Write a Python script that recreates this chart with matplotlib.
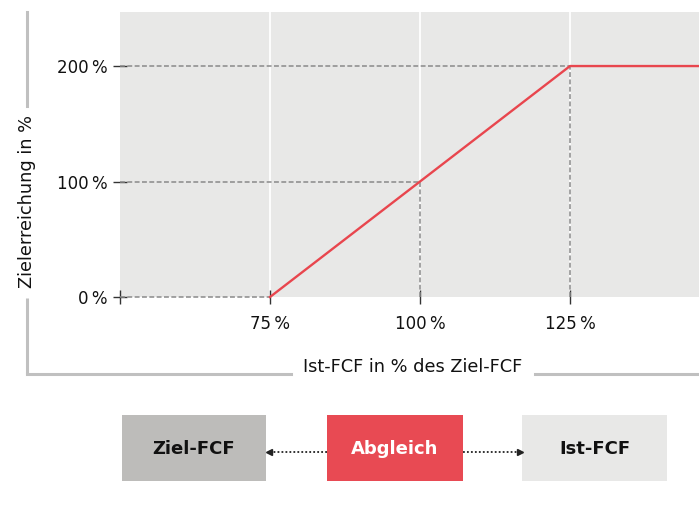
import numpy as np
import matplotlib.pyplot as plt
from matplotlib.lines import Line2D
from matplotlib.patches import Rectangle

# Data
ist_fcf = [75, 100, 125, 150]          # Ist-FCF in % des Ziel-FCF
zielerreichung = [0, 100, 200, 200]     # Zielerreichung in %
x_ticks = [50, 75, 100, 125]
x_labels = ['', '75\u2009%', '100\u2009%', '125\u2009%']
y_ticks = [0, 100, 200]
y_labels = ['0\u2009%', '100\u2009%', '200\u2009%']
box_names = ['Ziel-FCF', 'Abgleich', 'Ist-FCF']
box_colors = ['#bdbcba', '#e84a53', '#e8e8e7']
box_text_colors = ['#111111', 'white', '#111111']

W, H = 699, 505
plt.rcParams['font.family'] = ['DejaVu Sans']

def fx(x):
    return x / W

def fy(y):
    return 1 - y / H

fig = plt.figure(figsize=(W / 100, H / 100), dpi=100)
ax = fig.add_axes([fx(120), fy(297), fx(699) - fx(120), fy(12) - fy(297)])
ax.set_facecolor('#e8e8e7')
ax.set_xlim(50, 146.5)
ax.set_ylim(0, 246.8)
for s in ax.spines.values():
    s.set_visible(False)

# clip region a bit larger than the axes so lines on y=0 are not cut in half
clip = Rectangle((0, -0.03), 1, 1.06, transform=ax.transAxes, visible=False)
ax.add_patch(clip)

# white vertical grid
for xt in x_ticks[1:]:
    ax.axvline(xt, color='white', lw=1.3, zorder=1)

# dashed guide lines
dash = dict(color='#8a8a8a', lw=1.1, dashes=(3.2, 1.6), zorder=2)
for xk, yk in zip(ist_fcf[:3], zielerreichung[:3]):
    l1, = ax.plot([50, xk], [yk, yk], **dash)
    l2, = ax.plot([xk, xk], [0, yk], **dash)
    l1.set_clip_path(clip)
    l2.set_clip_path(clip)

red, = ax.plot(ist_fcf, zielerreichung, color='#e8464e', lw=1.7, zorder=3)
red.set_clip_path(clip)

ax.set_xticks(x_ticks)
ax.set_xticklabels(x_labels)
ax.set_yticks(y_ticks)
ax.set_yticklabels(y_labels)
ax.tick_params(axis='both', direction='inout', length=10, width=1.0,
               color='#333333', labelsize=12, labelcolor='#111111')
ax.tick_params(axis='x', pad=8)
ax.tick_params(axis='y', pad=4)

# outer frame with gaps for the labels
fc = '#c0c0c0'
fw = 2.2
fig.add_artist(Line2D([fx(27), fx(27)], [fy(12), fy(106)], color=fc, lw=fw))
fig.add_artist(Line2D([fx(27), fx(27)], [fy(298), fy(375)], color=fc, lw=fw, solid_capstyle='butt'))
fig.add_artist(Line2D([fx(27), fx(291)], [fy(374), fy(374)], color=fc, lw=fw))
fig.add_artist(Line2D([fx(535), fx(699)], [fy(374), fy(374)], color=fc, lw=fw))
fig.text(fx(27), fy(201), 'Zielerreichung in %', rotation=90, ha='center', va='center',
         fontsize=12.8, color='#111111')
fig.text(fx(413), fy(367), 'Ist-FCF in % des Ziel-FCF', ha='center', va='center',
         fontsize=12.8, color='#111111')

# boxes below
box_x = [(122, 266), (327, 463), (522, 667)]
for (x0, x1), name, c, tc in zip(box_x, box_names, box_colors, box_text_colors):
    fig.add_artist(Rectangle((fx(x0), fy(481)), fx(x1) - fx(x0), fy(415) - fy(481),
                             color=c, lw=0))
    fig.text(fx((x0 + x1) / 2), fy(449), name, ha='center', va='center',
             fontsize=13, fontweight='bold', color=tc)

# dotted arrows
ay = fy(452)
fig.add_artist(Line2D([fx(327), fx(270)], [ay, ay], color='#222222', lw=1.3, ls=(0, (1, 1.2))))
fig.add_artist(Line2D([fx(269)], [ay], color='#222222', marker='<', markersize=4, lw=0))
fig.add_artist(Line2D([fx(463), fx(519)], [ay, ay], color='#222222', lw=1.3, ls=(0, (1, 1.2))))
fig.add_artist(Line2D([fx(520)], [ay], color='#222222', marker='>', markersize=4, lw=0))

fig.savefig('out.png', dpi=100)
